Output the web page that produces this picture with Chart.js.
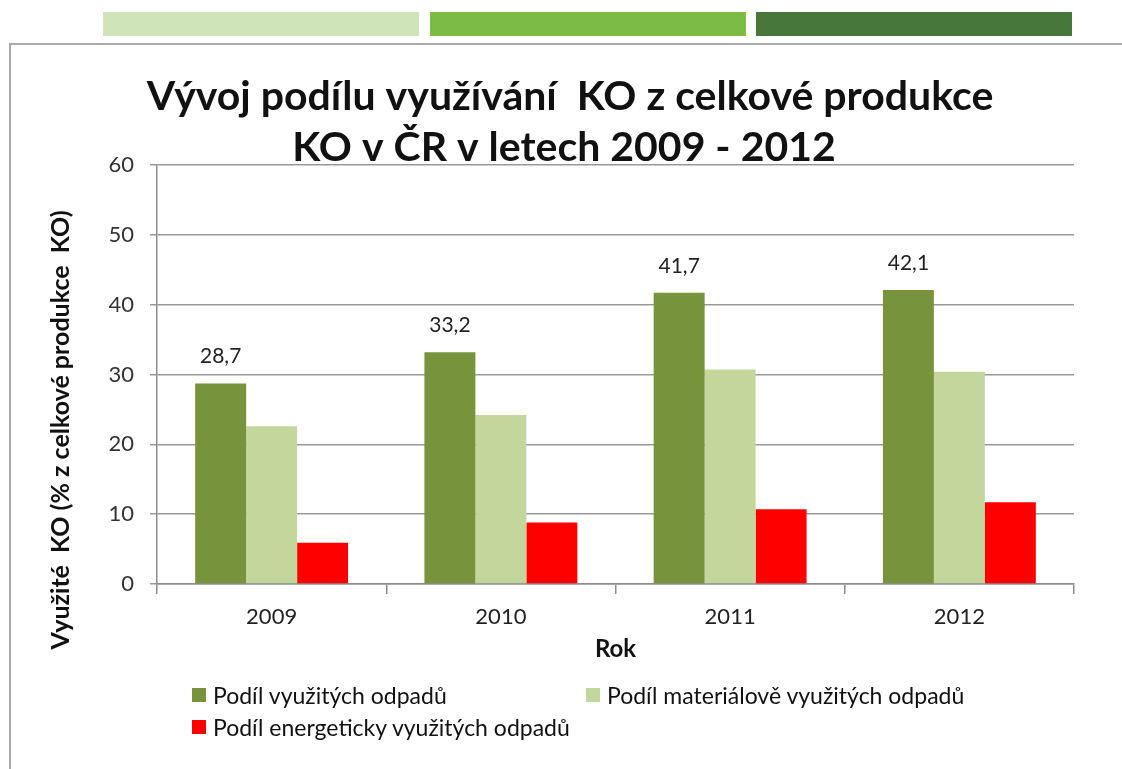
<!DOCTYPE html>
<html lang="cs">
<head>
  <meta charset="UTF-8">
  <title>Vývoj podílu využívání KO</title>
  <script src="https://cdn.jsdelivr.net/npm/chart.js"></script>
  <style>
    body { margin: 0; background: #fff; font-family: Lato, "Open Sans", sans-serif; }
    #page { position: relative; width: 1122px; height: 769px; overflow: hidden; }
    .topbar { position: absolute; top: 12px; height: 24px; width: 316px; }
    #frame { position: absolute; left: 9px; top: 43px; width: 1200px; height: 800px;
             border-left: 2px solid #a9a9a9; border-top: 2px solid #a9a9a9; }
    #chart { position: absolute; left: 0; top: 0; }
    .lg { position: absolute; font-size: 23px; color: #111; white-space: nowrap; line-height: 24px; }
    .lg i { position: absolute; left: -21px; top: 5px; width: 14px; height: 14px; }
  </style>
</head>
<body>
<div id="page">
  <div class="topbar" style="left:103px;background:#cfe4b9"></div>
  <div class="topbar" style="left:430px;background:#7bbd42"></div>
  <div class="topbar" style="left:756px;background:#47773a"></div>
  <div id="frame"></div>
  <canvas id="chart" width="1122" height="769"></canvas>
  <div id="legend"></div>
</div>

<script>
  const years = ["2009", "2010", "2011", "2012"];
  const usedTotal = [28.7, 33.2, 41.7, 42.1];
  const usedMaterial = [22.6, 24.2, 30.7, 30.4];
  const usedEnergy = [5.9, 8.8, 10.7, 11.7];
  const seriesNames = [
    "Podíl využitých odpadů",
    "Podíl materiálově využitých odpadů",
    "Podíl energeticky využitých odpadů"
  ];
  const titleLines = ["Vývoj podílu využívání  KO z celkové produkce", "KO v ČR v letech 2009 - 2012"];
  const yTitle = "Využité  KO (% z celkové produkce  KO)";

  const FONT = "Lato, 'Open Sans', sans-serif";

  // title, rotated y title and value labels of the first series
  const extras = {
    id: "extras",
    afterDraw(chart) {
      const ctx = chart.ctx;
      ctx.save();
      ctx.fillStyle = "#111";
      ctx.textAlign = "center";
      ctx.textBaseline = "middle";
      ctx.font = "bold 41px " + FONT;
      ctx.fillText(titleLines[0], 570, 97);
      ctx.fillText(titleLines[1], 564, 148);

      ctx.save();
      ctx.translate(61, 430);
      ctx.rotate(-Math.PI / 2);
      ctx.font = "bold 25px " + FONT;
      ctx.fillText(yTitle, 0, 0);
      ctx.restore();

      ctx.font = "21px " + FONT;
      ctx.fillStyle = "#222";
      chart.getDatasetMeta(0).data.forEach((bar, i) => {
        ctx.fillText(usedTotal[i].toFixed(1).replace(".", ","), bar.x, bar.y - 27);
      });
      ctx.restore();
    }
  };

  const chart = new Chart(document.getElementById("chart"), {
    type: "bar",
    data: {
      labels: years,
      datasets: [
        { label: seriesNames[0], data: usedTotal, backgroundColor: "#77933c" },
        { label: seriesNames[1], data: usedMaterial, backgroundColor: "#c3d69b" },
        { label: seriesNames[2], data: usedEnergy, backgroundColor: "#ff0000" }
      ]
    },
    options: {
      responsive: false,
      animation: false,
      categoryPercentage: 0.667,
      barPercentage: 1,
      layout: { padding: { left: 0, top: 165, right: 48, bottom: 100 } },
      plugins: {
        legend: { display: false },
        title: { display: false },
        tooltip: { enabled: false }
      },
      scales: {
        x: {
          afterFit: s => { s.height = 85; },
          border: { color: "#8c8c8c", width: 1.5 },
          grid: { offset: true, drawOnChartArea: false, drawTicks: true, tickLength: 10, color: "#8c8c8c", lineWidth: 1.5 },
          ticks: { color: "#222", padding: 10, font: { family: FONT, size: 22 } },
          title: { display: true, text: "Rok", color: "#111", padding: { top: 0, bottom: 5 },
                   font: { family: FONT, size: 24, weight: "bold" } }
        },
        y: {
          min: 0, max: 60,
          afterFit: s => { s.width = 157; },
          border: { color: "#8c8c8c", width: 1.5 },
          grid: { color: "#999", lineWidth: 1.5, tickLength: 7 },
          ticks: { stepSize: 10, color: "#333", padding: 16, font: { family: FONT, size: 22 } }
        }
      }
    },
    plugins: [extras]
  });

  // legend in two columns, built from the datasets
  const legendPos = [[213, 683], [607, 683], [213, 715]];
  const legend = document.getElementById("legend");
  chart.data.datasets.forEach((ds, i) => {
    const el = document.createElement("div");
    el.className = "lg";
    el.style.left = legendPos[i][0] + "px";
    el.style.top = legendPos[i][1] + "px";
    el.innerHTML = `<i style="background:${ds.backgroundColor}"></i>${ds.label}`;
    legend.appendChild(el);
  });
</script>
</body>
</html>
